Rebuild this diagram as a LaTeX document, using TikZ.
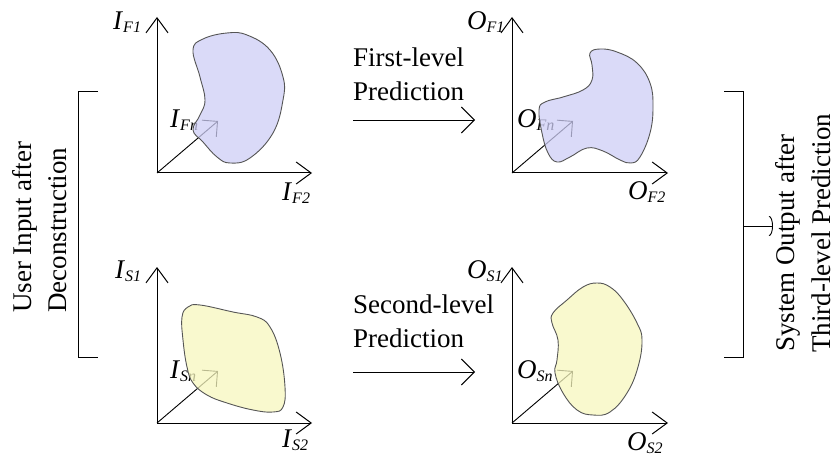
\documentclass[tikz,border=0pt]{standalone}
\usepackage{fontspec}
\setmainfont{Liberation Serif}
\usetikzlibrary{arrows.meta}
\newcommand{\axl}[2]{\textit{#1}\raisebox{-3pt}{\fontsize{16}{16}\selectfont\textit{#2}}}
\definecolor{blobblue}{RGB}{205,205,245}
\definecolor{blobyellow}{RGB}{247,247,190}
\definecolor{blobline}{RGB}{85,85,85}
\tikzset{
  axisarrow/.style={-{Straight Barb[length=15pt,width=22pt]}, line width=1pt},
  diagarrow/.style={-{Straight Barb[length=11pt,width=22pt]}, line width=0.9pt},
  predarrow/.style={-{Straight Barb[length=13pt,width=26pt]}, line width=0.9pt},
  bracketline/.style={line width=1pt},
  txt/.style={inner sep=0pt, anchor=base west, font=\fontsize{27}{35}\selectfont},
  blob/.style={draw=blobline, line width=0.9pt, fill opacity=0.75},
}
\begin{document}
\begin{tikzpicture}[x=1pt,y=-1pt]
\useasboundingbox (0,0) rectangle (838,457);
% ---- coordinates
\coordinate (o1) at (157,173); \coordinate (t1) at (157,17); \coordinate (r1) at (312,173); \coordinate (d1) at (218,121);
\coordinate (o2) at (512,173); \coordinate (t2) at (512,17); \coordinate (r2) at (668,173); \coordinate (d2) at (573,121);
\coordinate (o3) at (157,423); \coordinate (t3) at (157,267); \coordinate (r3) at (312,423); \coordinate (d3) at (218,371);
\coordinate (o4) at (512,423); \coordinate (t4) at (512,267); \coordinate (r4) at (668,423); \coordinate (d4) at (573,371);
% ---- axes
\foreach \i in {1,2,3,4}{
  \draw[axisarrow] (o\i) -- (t\i);
  \draw[axisarrow] (o\i) -- (r\i);
  \draw[diagarrow] (o\i) -- (d\i);
}
% ---- axis labels
\node[txt] (lIF1) at (113,30) {\axl{I}{F1}};
\node[txt] (lIF2) at (282,201) {\axl{I}{F2}};
\node[txt] (lIFn) at (170,128) {\axl{I}{Fn}};
\node[txt] (lOF1) at (467,30) {\axl{O}{F1}};
\node[txt] (lOF2) at (628,200) {\axl{O}{F2}};
\node[txt] (lOFn) at (517,128) {\axl{O}{Fn}};
\node[txt] (lIS1) at (115,278) {\axl{I}{S1}};
\node[txt] (lIS2) at (282,447) {\axl{I}{S2}};
\node[txt] (lISn) at (170,378) {\axl{I}{Sn}};
\node[txt] (lOS1) at (467,278) {\axl{O}{S1}};
\node[txt] (lOS2) at (627,450) {\axl{O}{S2}};
\node[txt] (lOSn) at (517,378) {\axl{O}{Sn}};
% ---- blobs
\path[blob, fill=blobblue] plot[smooth cycle, tension=0.7] coordinates {
 (193,50) (200,77) (205,100) (200,115) (193,130) (203,142) (217,157) (230,163)
 (250,158) (273,133) (283,100) (283,77) (270,50) (247,35) (227,33) (203,39)};
\path[blob, fill=blobblue] plot[smooth cycle, tension=0.7] coordinates {
 (590,53) (600,49) (617,52) (637,63) (650,83) (653,107) (650,133) (640,157) (631,163)
 (620,160) (603,151) (587,148) (570,157) (557,162) (548,153) (542,133) (539,110)
 (545,102) (563,97) (583,90) (592,80) (592,65)};
\path[blob, fill=blobyellow] plot[smooth cycle, tension=0.7] coordinates {
 (188,307) (200,305) (233,312) (257,317) (270,327) (280,353) (285,387) (283,407)
 (273,412) (253,410) (227,403) (207,395) (193,383) (187,367) (183,340) (182,317)};
\path[blob, fill=blobyellow] plot[smooth cycle, tension=0.7] coordinates {
 (597,283) (610,287) (623,300) (637,323) (642,340) (638,367) (627,393) (610,412)
 (593,415) (577,410) (563,393) (555,373) (557,360) (558,340) (552,323) (553,313)
 (567,300) (583,287)};
% ---- prediction arrows
\coordinate (p1s) at (353,120); \coordinate (p1e) at (475,120);
\coordinate (p2s) at (353,372); \coordinate (p2e) at (475,372);
\draw[predarrow] (p1s) -- (p1e);
\draw[predarrow] (p2s) -- (p2e);
\node[txt] (fl1) at (353,67) {First-level};
\node[txt] (fl2) at (353,101) {Prediction};
\node[txt] (sl1) at (353,313) {Second-level};
\node[txt] (sl2) at (353,347) {Prediction};
% ---- left bracket
\coordinate (lbt) at (98,92); \coordinate (lbtc) at (78,92);
\coordinate (lbbc) at (78,357); \coordinate (lbb) at (98,357);
\draw[bracketline] (lbt) -- (lbtc) -- (lbbc) -- (lbb);
\node[txt, rotate=90] (ui1) at (31,313) {User Input after};
\node[txt, rotate=90] (ui2) at (66,313) {Deconstruction};
% ---- right bracket
\coordinate (rbt) at (724,92); \coordinate (rbtc) at (743,92);
\coordinate (rbbc) at (743,357); \coordinate (rbb) at (724,357);
\coordinate (rbm) at (743,226); \coordinate (rbe) at (773,226);
\draw[bracketline] (rbt) -- (rbtc) -- (rbbc) -- (rbb);
\draw[line width=0.9pt, -{Arc Barb[length=4pt,width=20pt]}] (rbm) -- (rbe);
\node[txt, rotate=90] (so1) at (794,352) {System Output after};
\node[txt, rotate=90] (so2) at (830,353) {Third-level Prediction};
\end{tikzpicture}
\end{document}
